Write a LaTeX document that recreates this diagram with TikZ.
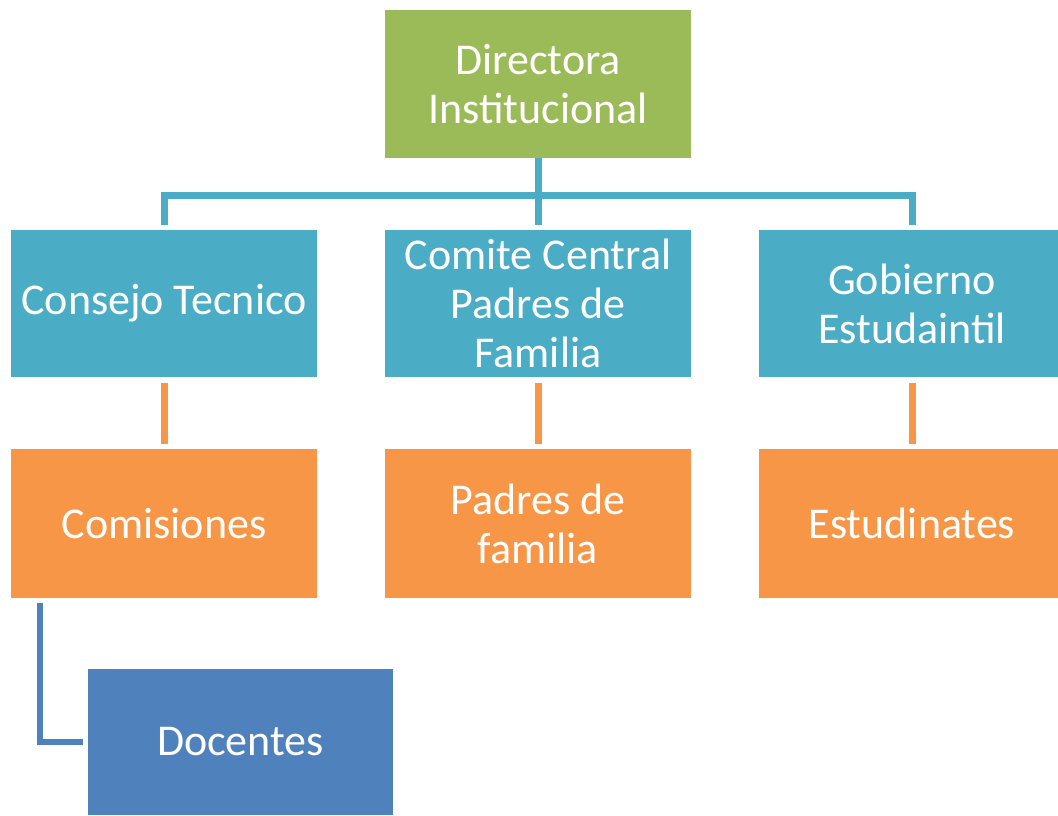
\documentclass[tikz,border=0pt]{standalone}
\usepackage{fontspec}
\setmainfont{Carlito}
\definecolor{cgreen}{HTML}{9BBB59}
\definecolor{cteal}{HTML}{4BACC6}
\definecolor{corange}{HTML}{F79646}
\definecolor{cblue}{HTML}{4F81BD}
\begin{document}
\begin{tikzpicture}[x=1pt,y=-1pt,
  box/.style={rectangle,minimum width=306pt,minimum height=148pt,inner sep=0pt,
    text=white,align=center,font=\fontsize{44}{49}\selectfont},
  tline/.style={draw=cteal,line width=7pt},
  oline/.style={draw=corange,line width=7pt},
  bline/.style={draw=cblue,line width=6pt}]
\useasboundingbox (0,0) rectangle (1058,816);
\node[box,fill=cgreen] (dir) at (538,84) {Directora\\Institucional};
\node[box,fill=cteal,minimum height=147pt] (ct) at (164,303.5) {Consejo Tecnico};
\node[box,fill=cteal,minimum height=147pt] (com) at (538,303.5) {Comite Central\\Padres de\\Familia};
\node[box,fill=cteal,minimum height=147pt] (ge) at (912,303.5) {Gobierno\\Estudaintil};
\node[box,fill=corange,minimum height=149pt] (comis) at (164,523.5) {Comisiones};
\node[box,fill=corange,minimum height=149pt] (pf) at (538,523.5) {Padres de\\familia};
\node[box,fill=corange,minimum height=149pt] (est) at (912,523.5) {Estudinates};
\node[box,fill=cblue,minimum width=305pt,minimum height=146pt] (doc) at (240.5,742) {Docentes};
\coordinate (bus) at (538,195);
\draw[tline] (dir.south) -- ([yshift=5pt]com.north);
\draw[tline] ([yshift=5pt]ct.north) |- (bus) -| ([yshift=5pt]ge.north);
\draw[oline] ([yshift=-6pt]ct.south) -- ([yshift=5pt]comis.north);
\draw[oline] ([yshift=-6pt]com.south) -- ([yshift=5pt]pf.north);
\draw[oline] ([yshift=-6pt]ge.south) -- ([yshift=5pt]est.north);
\draw[bline] ([xshift=-124pt,yshift=-5pt]comis.south) |- ([xshift=-5pt]doc.west);
\end{tikzpicture}
\end{document}
